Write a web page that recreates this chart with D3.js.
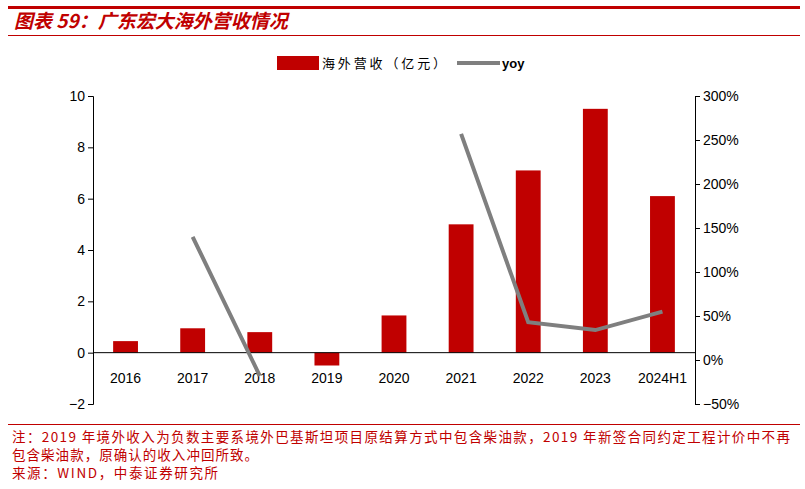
<!doctype html>
<html><head><meta charset="utf-8">
<script src="https://cdn.jsdelivr.net/npm/d3@7"></script>
<style>body{margin:0;background:#fff;font-family:"Liberation Sans","Noto Sans CJK SC",sans-serif;}</style>
</head><body><div id="c"></div>
<script>
var categories = ["2016","2017","2018","2019","2020","2021","2022","2023","2024H1"];
var revenue = [0.45,0.95,0.8,-0.5,1.45,5.0,7.1,9.5,6.1];
var yoy = [null,140,-18,null,null,257,43,34,55];
var leftTicks = [-2,0,2,4,6,8,10];
var rightTicks = [-50,0,50,100,150,200,250,300];

var red = "#c00000";
var svg = d3.select("#c").append("svg").attr("width",805).attr("height",489);
var cjk = '"Noto Sans CJK SC",sans-serif';

svg.append("rect").attr("x",8).attr("y",6).attr("width",792).attr("height",3).attr("fill",red);
svg.append("text").attr("x",14).attr("y",28).attr("fill",red).attr("font-size",19)
  .attr("font-style","italic").attr("font-weight","bold").attr("font-family",cjk).text("图表 59：广东宏大海外营收情况");
svg.append("rect").attr("x",8).attr("y",35).attr("width",792).attr("height",1).attr("fill",red);

var x = d3.scaleBand().domain(categories).range([93,695]).paddingInner(0.63).paddingOuter(0.3);
var yL = d3.scaleLinear().domain([-2,10]).range([404,96]);
var yR = d3.scaleLinear().domain([-50,300]).range([404,96]);

svg.append("g").attr("transform","translate(93,0)")
  .call(d3.axisLeft(yL).tickValues(leftTicks).tickSize(5).tickFormat(d=>d<0?"\u2212"+(-d):d))
  .call(g=>{g.selectAll("text").attr("font-size",14).attr("fill","#000").attr("font-family","Liberation Sans");g.selectAll("line,path").attr("stroke","#000");});
svg.append("g").attr("transform","translate(695,0)")
  .call(d3.axisRight(yR).tickValues(rightTicks).tickSize(5).tickFormat(d=>(d<0?"\u2212"+(-d):d)+"%"))
  .call(g=>{g.selectAll("text").attr("font-size",14).attr("fill","#000").attr("font-family","Liberation Sans");g.selectAll("line,path").attr("stroke","#000");});

svg.append("g").selectAll("rect").data(categories).join("rect")
  .attr("x",d=>x(d)).attr("width",x.bandwidth())
  .attr("y",(d,i)=>yL(Math.max(0,revenue[i])))
  .attr("height",(d,i)=>Math.abs(yL(revenue[i])-yL(0)))
  .attr("fill",red);

svg.append("line").attr("x1",93).attr("x2",695).attr("y1",yL(0)).attr("y2",yL(0)).attr("stroke","#000");
svg.append("g").selectAll("text").data(categories).join("text")
  .attr("x",d=>x(d)+x.bandwidth()/2).attr("y",383).attr("text-anchor","middle")
  .attr("font-size",14).text(d=>d);

var pts = categories.map((c,i)=>({c:c,v:yoy[i]}));
svg.append("path").datum(pts).attr("fill","none").attr("stroke","#7f7f7f").attr("stroke-width",4)
  .attr("d",d3.line().defined(d=>d.v!==null).x(d=>x(d.c)+x.bandwidth()/2).y(d=>yR(d.v)));

// legend
svg.append("rect").attr("x",277).attr("y",56).attr("width",42).attr("height",14).attr("fill",red);
svg.append("text").attr("x",322).attr("y",68).attr("font-size",13).attr("font-family",cjk)
  .attr("textLength",124).text("海外营收（亿元）");
svg.append("line").attr("x1",457).attr("x2",500).attr("y1",63).attr("y2",63).attr("stroke","#7f7f7f").attr("stroke-width",4);
svg.append("text").attr("x",502).attr("y",68).attr("font-size",13).attr("font-weight","bold").text("yoy");

svg.append("rect").attr("x",8).attr("y",424).attr("width",792).attr("height",1).attr("fill",red);
var notes = ["注：2019 年境外收入为负数主要系境外巴基斯坦项目原结算方式中包含柴油款，2019 年新签合同约定工程计价中不再",
  "包含柴油款，原确认的收入冲回所致。","来源：WIND，中泰证券研究所"];
var noteLen = [778, 246, 206];
svg.append("g").selectAll("text").data(notes).join("text")
  .attr("x",12).attr("y",(d,i)=>442+i*18).attr("font-size",13.5).attr("fill",red).attr("font-family",cjk)
  .attr("textLength",(d,i)=>noteLen[i]).attr("lengthAdjust","spacing").text(d=>d);
</script></body></html>
